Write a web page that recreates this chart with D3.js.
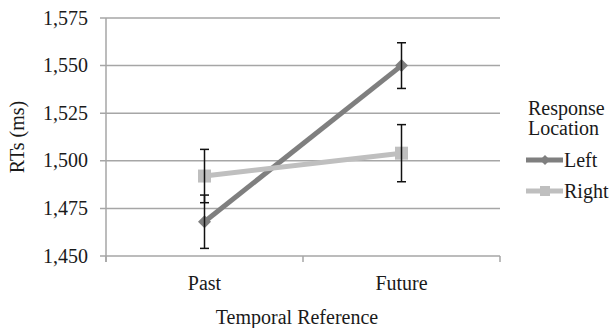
<!DOCTYPE html>
<html><head><meta charset="utf-8">
<script src="https://cdn.jsdelivr.net/npm/d3@7"></script>
<style>body{margin:0;background:#fff}svg{display:block}text{font-family:"Liberation Serif","Times New Roman",serif;fill:#1a1a1a}</style>
</head><body><svg id="c" width="610" height="328"></svg>
<script>
const categories = ["Past", "Future"];
const seriesNames = ["Left", "Right"];
const leftValues = [1468, 1550];
const leftErrors = [14, 12];
const rightValues = [1492, 1504];
const rightErrors = [14, 15];
const yTicks = [1450, 1475, 1500, 1525, 1550, 1575];

const series = [
  {name: seriesNames[0], values: leftValues, errors: leftErrors, color: "#7f7f7f", marker: "diamond"},
  {name: seriesNames[1], values: rightValues, errors: rightErrors, color: "#bfbfbf", marker: "square"}
];

const FS = 20;
const svg = d3.select("#c");
const m = {l: 106, r: 500, t: 18, b: 256};
const x = d3.scaleBand().domain(categories).range([m.l, m.r]);
const y = d3.scaleLinear().domain([1450, 1575]).range([m.b, m.t]);
const fmt = d3.format(",");

// gridlines
svg.append("g").selectAll("line").data(yTicks).join("line")
  .attr("x1", m.l - 6).attr("x2", m.r).attr("y1", d => y(d)).attr("y2", d => y(d))
  .attr("stroke", "#a6a6a6").attr("stroke-width", 1.5);
// y axis line
svg.append("line").attr("x1", m.l).attr("x2", m.l).attr("y1", m.t).attr("y2", m.b + 6)
  .attr("stroke", "#a6a6a6").attr("stroke-width", 1.5);
// x ticks
const xt = [m.l, ...categories.slice(1).map(c => x(c)), m.r];
svg.append("g").selectAll("line").data(xt).join("line")
  .attr("x1", d => d).attr("x2", d => d).attr("y1", m.b).attr("y2", m.b + 6)
  .attr("stroke", "#a6a6a6").attr("stroke-width", 1.5);
// y tick labels
svg.append("g").selectAll("text").data(yTicks).join("text")
  .attr("x", 88).attr("y", d => y(d) + 6.5).attr("text-anchor", "end")
  .attr("font-size", FS).text(d => fmt(d));
// x tick labels
svg.append("g").selectAll("text").data(categories).join("text")
  .attr("x", d => x(d) + x.bandwidth() / 2).attr("y", 290).attr("text-anchor", "middle")
  .attr("font-size", FS).text(d => d);
svg.append("text").attr("x", 297).attr("y", 324).attr("text-anchor", "middle")
  .attr("font-size", FS).text("Temporal Reference");
svg.append("text").attr("transform", "translate(24," + ((m.t + m.b) / 2) + ") rotate(-90)")
  .attr("text-anchor", "middle").attr("font-size", FS).text("RTs (ms)");

const cx = c => x(c) + x.bandwidth() / 2;
const line = d3.line().x((d, i) => cx(categories[i])).y(d => y(d));

function marker(g, type, color) {
  if (type === "diamond") {
    g.append("path").attr("d", "M0,-6.5L6.5,0L0,6.5L-6.5,0Z").attr("fill", color);
  } else {
    g.append("rect").attr("x", -6.5).attr("y", -6.5).attr("width", 13).attr("height", 13).attr("fill", color);
  }
}

series.forEach(s => {
  svg.append("path").datum(s.values).attr("d", line).attr("fill", "none")
    .attr("stroke", s.color).attr("stroke-width", 5);
  s.values.forEach((v, i) => {
    const g = svg.append("g").attr("transform", `translate(${cx(categories[i])},${y(v)})`);
    marker(g, s.marker, s.color);
  });
});
// error bars on top
series.forEach(s => {
  s.values.forEach((v, i) => {
    const px = cx(categories[i]);
    const g = svg.append("g").attr("stroke", "#111").attr("stroke-width", 1.5);
    g.append("line").attr("x1", px).attr("x2", px).attr("y1", y(v + s.errors[i])).attr("y2", y(v - s.errors[i]));
    [v + s.errors[i], v - s.errors[i]].forEach(e => {
      g.append("line").attr("x1", px - 4.5).attr("x2", px + 4.5).attr("y1", y(e)).attr("y2", y(e));
    });
  });
});

// legend
svg.append("text").attr("x", 528).attr("y", 115).attr("font-size", FS).text("Response");
svg.append("text").attr("x", 528).attr("y", 135).attr("font-size", FS).text("Location");
const ly = [160, 191];
series.forEach((s, i) => {
  const g = svg.append("g").attr("transform", `translate(0,${ly[i]})`);
  g.append("line").attr("x1", 526).attr("x2", 563).attr("y1", 0).attr("y2", 0)
    .attr("stroke", s.color).attr("stroke-width", 5);
  const mg = g.append("g").attr("transform", "translate(545,0)");
  if (s.marker === "diamond") mg.append("path").attr("d", "M0,-5L5,0L0,5L-5,0Z").attr("fill", s.color);
  else mg.append("rect").attr("x", -5).attr("y", -5).attr("width", 10).attr("height", 10).attr("fill", s.color);
  g.append("text").attr("x", 564).attr("y", 6.5).attr("font-size", FS).text(s.name);
});
</script></body></html>
